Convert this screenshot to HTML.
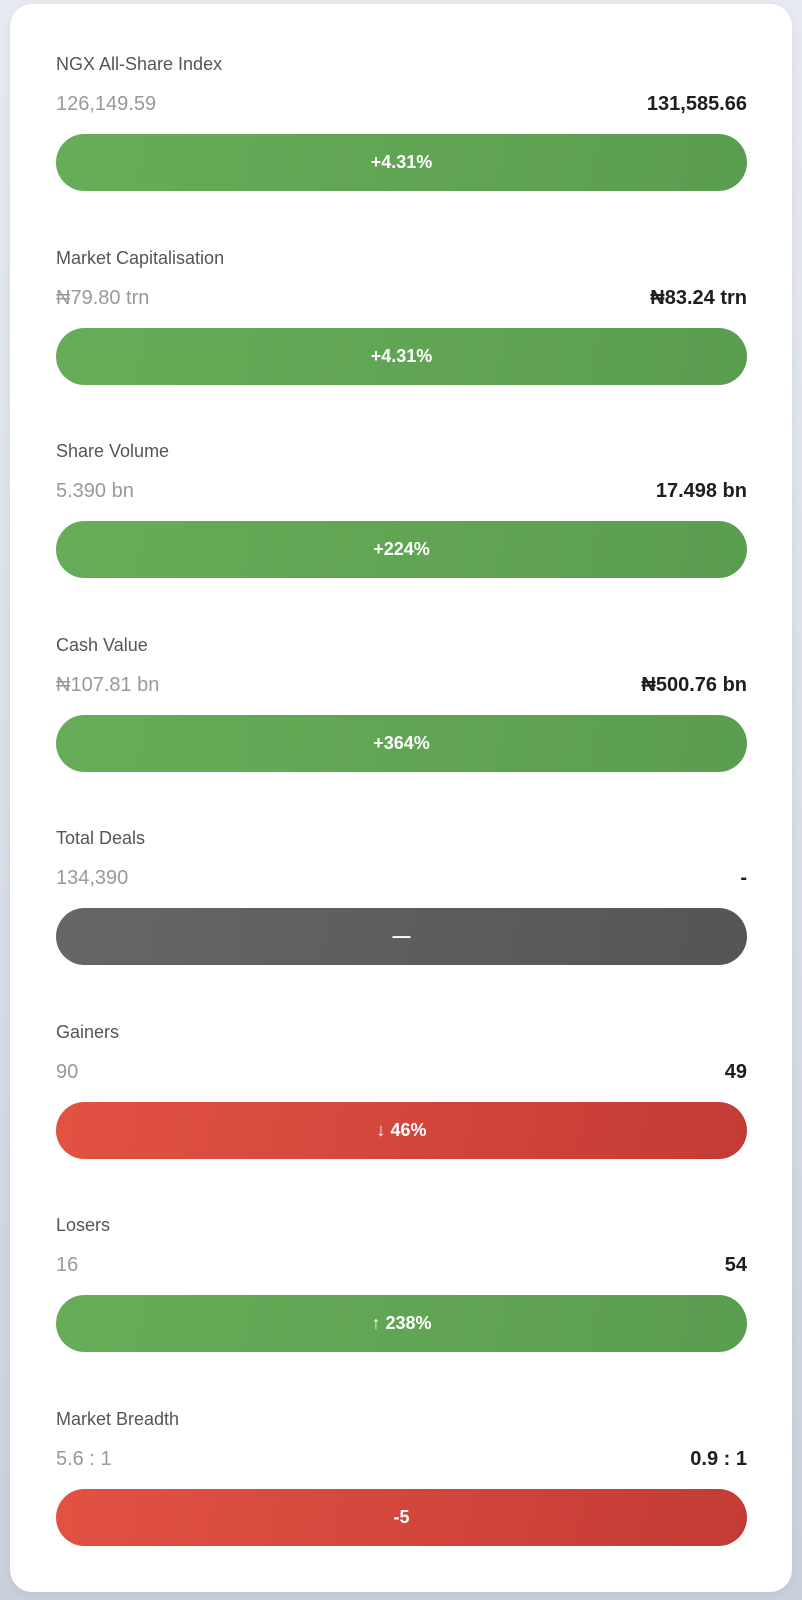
<!DOCTYPE html>
<html><head><meta charset="utf-8"><style>
html,body{margin:0;padding:0;}
body{width:802px;height:1600px;background:linear-gradient(180deg,#e6e9ef 0%,#d6dbe5 60%,#c8cfdc 100%);font-family:"Liberation Sans",sans-serif;position:relative;overflow:hidden;}
.card{position:absolute;left:10px;top:4px;width:782px;height:1588px;background:#fff;border-radius:22px;box-shadow:0 2px 8px rgba(0,0,0,0.06);}
.sec{position:absolute;left:46px;width:691px;height:130px;}
.title{position:absolute;left:0;top:0;font-size:18px;color:#555;line-height:22px;}
.prev{position:absolute;left:0;top:39px;font-size:20px;color:#999;line-height:24px;}
.cur{position:absolute;right:0;top:39px;font-size:20px;color:#1e1e1e;font-weight:bold;line-height:24px;}
.bar{position:absolute;left:0;top:81px;width:691px;height:57px;border-radius:29px;color:#fff;font-weight:bold;font-size:18px;text-align:center;line-height:57px;}
.g{background:linear-gradient(100deg,#67ad58,#5a9d50);}
.r{background:linear-gradient(100deg,#e25243,#c33b35);}
.n{background:linear-gradient(100deg,#666,#555);}
</style></head><body>
<div class="card">
<div class="sec" style="top:49px"><div class="title">NGX All-Share Index</div><div class="prev">126,149.59</div><div class="cur">131,585.66</div><div class="bar g">+4.31%</div></div>
<div class="sec" style="top:243px"><div class="title">Market Capitalisation</div><div class="prev">₦79.80 trn</div><div class="cur">₦83.24 trn</div><div class="bar g">+4.31%</div></div>
<div class="sec" style="top:436px"><div class="title">Share Volume</div><div class="prev">5.390 bn</div><div class="cur">17.498 bn</div><div class="bar g">+224%</div></div>
<div class="sec" style="top:630px"><div class="title">Cash Value</div><div class="prev">₦107.81 bn</div><div class="cur">₦500.76 bn</div><div class="bar g">+364%</div></div>
<div class="sec" style="top:823px"><div class="title">Total Deals</div><div class="prev">134,390</div><div class="cur">-</div><div class="bar n">—</div></div>
<div class="sec" style="top:1017px"><div class="title">Gainers</div><div class="prev">90</div><div class="cur">49</div><div class="bar r">↓ 46%</div></div>
<div class="sec" style="top:1210px"><div class="title">Losers</div><div class="prev">16</div><div class="cur">54</div><div class="bar g">↑ 238%</div></div>
<div class="sec" style="top:1404px"><div class="title">Market Breadth</div><div class="prev">5.6 : 1</div><div class="cur">0.9 : 1</div><div class="bar r">-5</div></div>
</div>
</body></html>
